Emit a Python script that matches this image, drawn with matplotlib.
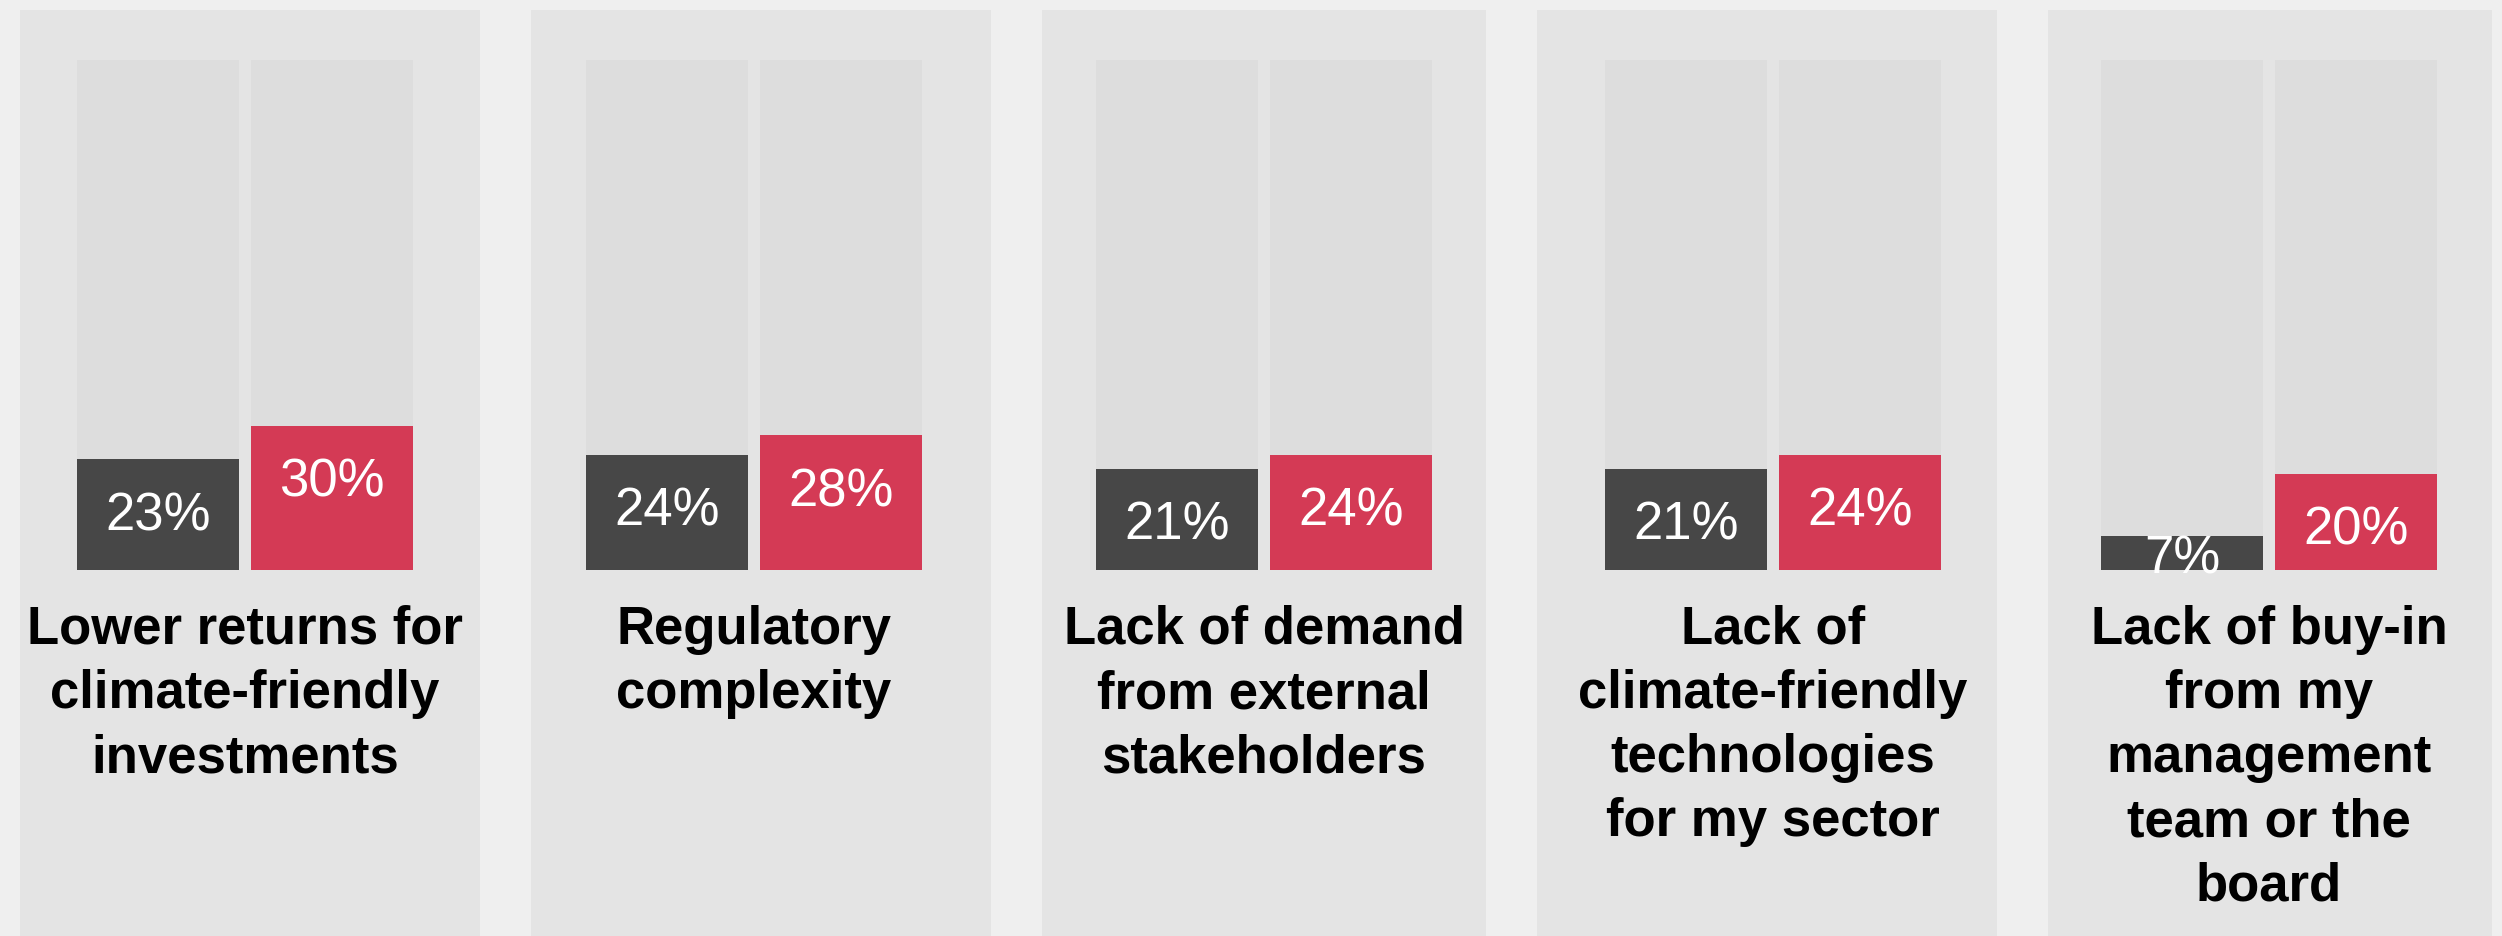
import matplotlib.pyplot as plt
from matplotlib.patches import Rectangle

# === Barriers to climate-friendly investment, two groups per barrier ===

categories = [
    "Lower returns for\nclimate-friendly\ninvestments",
    "Regulatory\ncomplexity",
    "Lack of demand\nfrom external\nstakeholders",
    "Lack of\nclimate-friendly\ntechnologies\nfor my sector",
    "Lack of buy-in\nfrom my\nmanagement\nteam or the\nboard",
]
dark_vals = [23, 24, 21, 21, 7]
red_vals = [30, 28, 24, 24, 20]

# top of the grey track bars, in %
track_max = 106

DARK = "#474747"
RED = "#d43a55"
TRACK = "#dddddd"
PANEL = "#e4e4e4"
BG = "#efefef"

W, H = 2502, 937
fig = plt.figure(figsize=(W / 100, H / 100), dpi=100, facecolor=BG)
plt.rcParams['font.family'] = ['Liberation Sans', 'DejaVu Sans']

# panel boxes and bar areas (pixels)
panels = [(20, 460), (531, 460), (1042, 444), (1537, 460), (2048, 444)]
bar_lefts = [77, 586, 1096, 1605, 2101]
bar_w, bar_gap = 162, 12
panel_top = 11
base_y, top_y = 571, 61

for i, (px, pw) in enumerate(panels):
    fig.patches.append(Rectangle((px / W, 0), pw / W, 1 - panel_top / H,
                                 transform=fig.transFigure, facecolor=PANEL,
                                 edgecolor='none', zorder=-1))

    span = 2 * bar_w + bar_gap
    ax = fig.add_axes([bar_lefts[i] / W, 1 - base_y / H, span / W, (base_y - top_y) / H])
    ax.set_facecolor('none')
    for s in ax.spines.values():
        s.set_visible(False)
    ax.set_xticks([])
    ax.set_yticks([])

    step = (bar_w + bar_gap) / bar_w
    width = 1 / step
    xs = [0, 1]
    vals = [dark_vals[i], red_vals[i]]
    ax.bar(xs, [track_max, track_max], width=width, color=TRACK, zorder=1)
    ax.bar(xs, vals, width=width, color=[DARK, RED], zorder=2)
    ax.set_xlim(-width / 2, 1 + width / 2)
    ax.set_ylim(0, track_max)

    for x, v in zip(xs, vals):
        ax.text(x, max(v - 6.4, 7.5), f"{v}%", ha='center', va='top',
                color='white', fontsize=38, zorder=3)

    cx = (bar_lefts[i] + span / 2) / W
    fig.text(cx, 1 - 605 / H, categories[i], ha='center', va='top',
             fontsize=38, fontweight='bold', color='black', linespacing=1.36)

fig.savefig("out.png", dpi=100, facecolor=BG)
